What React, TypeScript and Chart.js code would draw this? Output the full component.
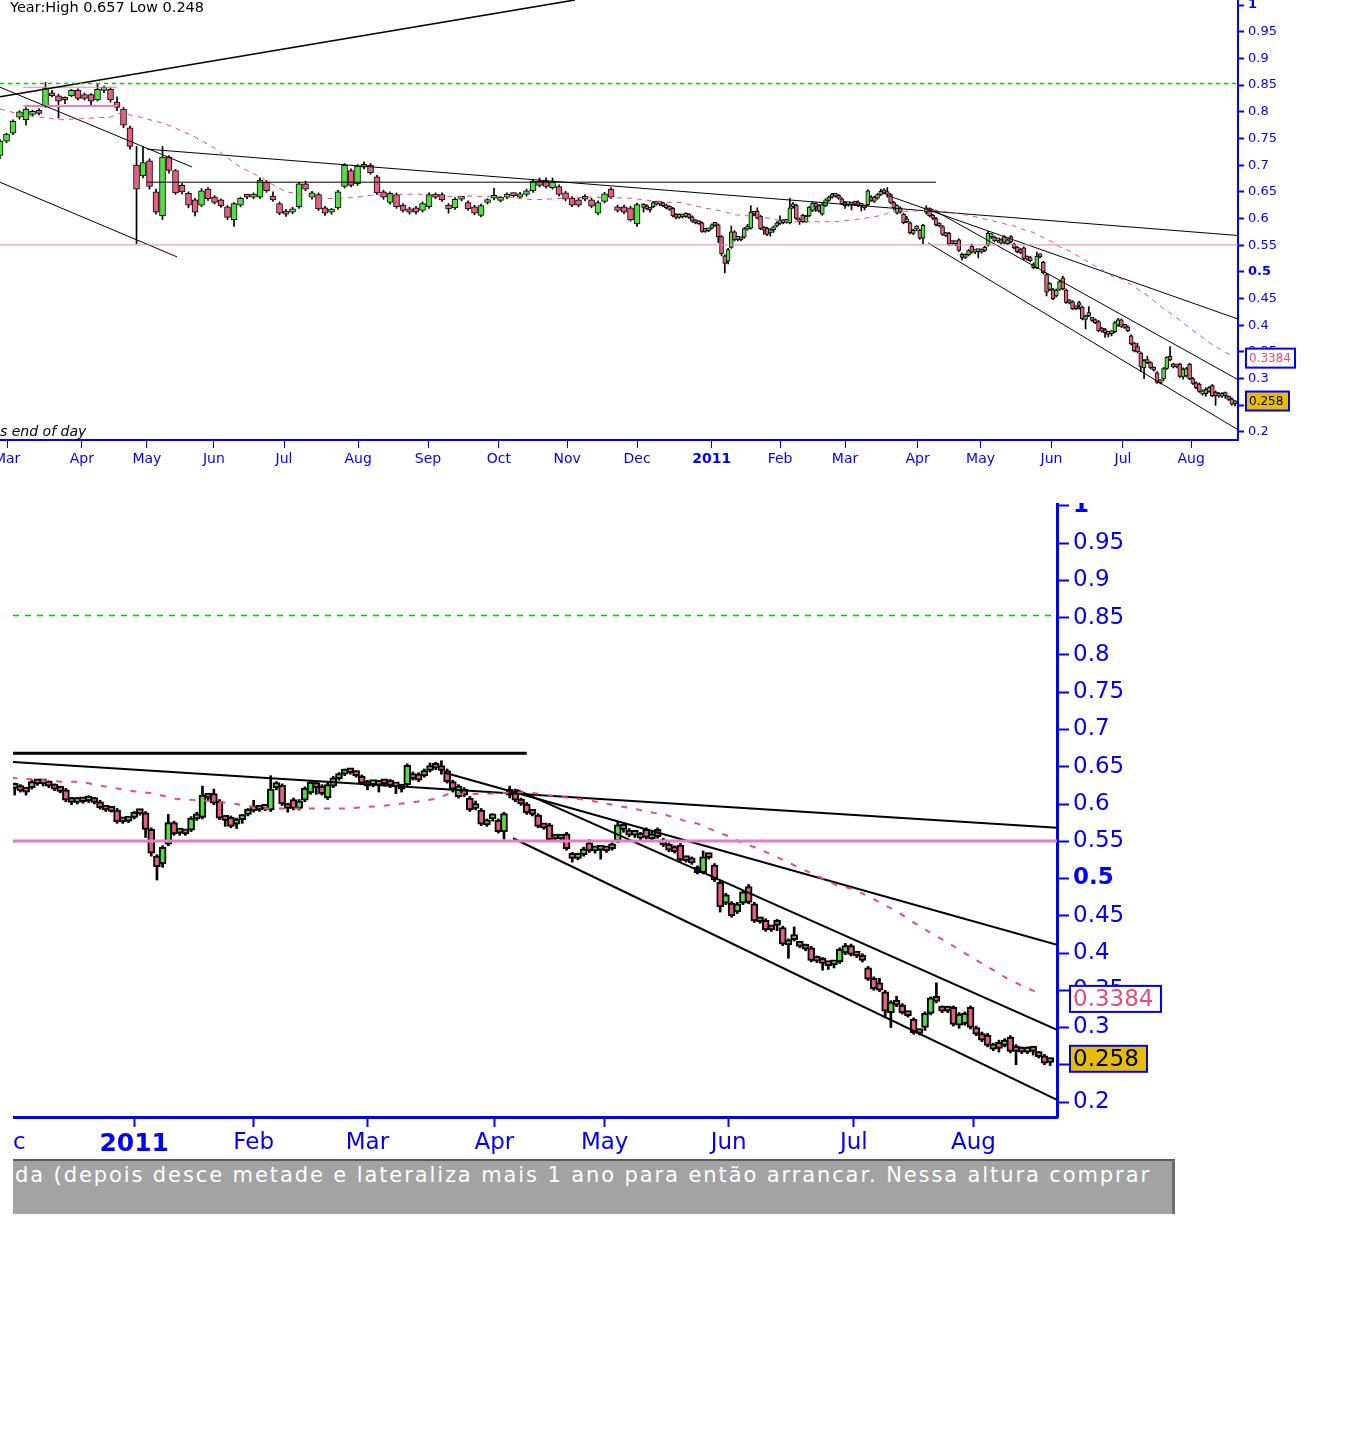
import React, { useEffect, useRef } from 'react';
import { Chart, registerables } from 'chart.js';

Chart.register(...registerables);

// ---------------- colours ----------------
const BLUE = '#0000FF';
const UP = '#55DD44';
const DOWN = '#E4607E';
const MA_COLOR = '#E0507A';
const SUPPORT_PINK = '#E87CC8';
const GREEN_DASH = '#00CC00';
const GOLD = '#E6BE0A';
const FONT = 'DejaVu Sans';

// ---------------- axis ticks ----------------
const yTickValues = [0.2, 0.25, 0.3, 0.35, 0.4, 0.45, 0.5, 0.55, 0.6, 0.65, 0.7, 0.75, 0.8, 0.85, 0.9, 0.95, 1];
// trading-day index of each month start
const monthTickDays = [2.2, 25.2, 45.2, 65.8, 87.4, 110.2, 131.7, 153.5, 174.5, 196, 219, 240, 260, 282.3, 301.7, 323.5, 345.5, 366.5];
const monthTickLabels = ['Mar', 'Apr', 'May', 'Jun', 'Jul', 'Aug', 'Sep', 'Oct', 'Nov', 'Dec', '2011', 'Feb', 'Mar', 'Apr', 'May', 'Jun', 'Jul', 'Aug'];

// ---------------- header values ----------------
const yearHigh = 0.657;
const yearLow = 0.248;
const lastPrice = 0.258;
const maLast = 0.3384;

// ---------------- candles: [open, high, low, close] ----------------
// Mar 2010 - Dec 2010, one candle every 2 trading days starting at day 0
const firstDay2010 = 0;
const step2010 = 2;
const ohlc2010 = [
  [0.718, 0.748, 0.712, 0.745], [0.745, 0.760, 0.742, 0.758], [0.760, 0.785, 0.757, 0.782], [0.790, 0.802, 0.786, 0.800],
  [0.785, 0.808, 0.775, 0.805], [0.795, 0.803, 0.792, 0.800], [0.800, 0.806, 0.794, 0.797], [0.810, 0.855, 0.808, 0.845],
  [0.835, 0.840, 0.828, 0.830], [0.830, 0.833, 0.788, 0.820], [0.825, 0.828, 0.815, 0.822], [0.830, 0.842, 0.828, 0.840],
  [0.840, 0.843, 0.822, 0.825], [0.832, 0.835, 0.822, 0.825], [0.832, 0.834, 0.813, 0.820], [0.822, 0.853, 0.820, 0.842],
  [0.840, 0.848, 0.836, 0.843], [0.842, 0.845, 0.818, 0.822], [0.818, 0.828, 0.802, 0.808], [0.805, 0.808, 0.770, 0.775],
  [0.770, 0.773, 0.730, 0.735], [0.700, 0.735, 0.553, 0.655], [0.680, 0.735, 0.676, 0.705], [0.708, 0.712, 0.655, 0.660],
  [0.650, 0.655, 0.608, 0.612], [0.605, 0.735, 0.598, 0.715], [0.715, 0.718, 0.685, 0.690], [0.690, 0.692, 0.645, 0.648],
  [0.662, 0.666, 0.646, 0.650], [0.647, 0.650, 0.620, 0.625], [0.635, 0.638, 0.605, 0.612], [0.625, 0.656, 0.622, 0.652],
  [0.655, 0.658, 0.634, 0.637], [0.640, 0.643, 0.627, 0.630], [0.635, 0.637, 0.621, 0.624], [0.622, 0.624, 0.598, 0.602],
  [0.598, 0.630, 0.585, 0.628], [0.625, 0.640, 0.622, 0.638], [0.642, 0.645, 0.637, 0.640], [0.640, 0.648, 0.637, 0.645],
  [0.640, 0.676, 0.637, 0.672], [0.668, 0.671, 0.649, 0.652], [0.642, 0.650, 0.632, 0.635], [0.628, 0.631, 0.607, 0.610],
  [0.614, 0.617, 0.604, 0.608], [0.612, 0.621, 0.609, 0.618], [0.622, 0.668, 0.619, 0.665], [0.665, 0.670, 0.652, 0.655],
  [0.640, 0.651, 0.636, 0.648], [0.645, 0.648, 0.615, 0.618], [0.620, 0.623, 0.606, 0.610], [0.612, 0.619, 0.608, 0.616],
  [0.620, 0.653, 0.617, 0.650], [0.660, 0.703, 0.657, 0.700], [0.690, 0.693, 0.659, 0.662], [0.665, 0.701, 0.662, 0.698],
  [0.696, 0.706, 0.693, 0.700], [0.700, 0.703, 0.683, 0.686], [0.678, 0.681, 0.645, 0.648], [0.650, 0.653, 0.636, 0.640],
  [0.630, 0.650, 0.627, 0.647], [0.645, 0.648, 0.619, 0.622], [0.625, 0.628, 0.612, 0.615], [0.618, 0.621, 0.608, 0.612],
  [0.620, 0.623, 0.608, 0.612], [0.615, 0.631, 0.612, 0.628], [0.622, 0.648, 0.619, 0.645], [0.645, 0.648, 0.637, 0.640],
  [0.645, 0.648, 0.632, 0.635], [0.625, 0.628, 0.610, 0.618], [0.620, 0.639, 0.617, 0.636], [0.636, 0.641, 0.633, 0.638],
  [0.630, 0.633, 0.615, 0.618], [0.622, 0.625, 0.607, 0.610], [0.606, 0.627, 0.603, 0.624], [0.630, 0.637, 0.627, 0.634],
  [0.638, 0.657, 0.635, 0.640], [0.634, 0.641, 0.631, 0.638], [0.640, 0.648, 0.637, 0.645], [0.645, 0.648, 0.640, 0.643],
  [0.640, 0.649, 0.637, 0.646], [0.645, 0.655, 0.642, 0.652], [0.652, 0.673, 0.649, 0.670], [0.670, 0.676, 0.659, 0.662],
  [0.670, 0.676, 0.657, 0.660], [0.658, 0.676, 0.655, 0.668], [0.660, 0.663, 0.642, 0.645], [0.648, 0.651, 0.633, 0.636],
  [0.638, 0.641, 0.622, 0.625], [0.635, 0.638, 0.622, 0.625], [0.640, 0.645, 0.633, 0.636], [0.635, 0.638, 0.620, 0.623],
  [0.610, 0.633, 0.607, 0.630], [0.632, 0.649, 0.629, 0.646], [0.655, 0.658, 0.637, 0.640], [0.622, 0.625, 0.612, 0.615],
  [0.622, 0.625, 0.609, 0.612], [0.620, 0.623, 0.595, 0.598], [0.590, 0.629, 0.585, 0.626],
];

// Dec 2010 - Aug 2011, daily candles starting at day 198
const firstDay2011 = 198;
const ohlc2011 = [
  [0.621, 0.628, 0.612, 0.626], [0.623, 0.626, 0.616, 0.618], [0.619, 0.621, 0.612, 0.616], [0.622, 0.632, 0.620, 0.630],
  [0.630, 0.632, 0.625, 0.627], [0.627, 0.631, 0.624, 0.630], [0.629, 0.631, 0.622, 0.624], [0.625, 0.627, 0.618, 0.620],
  [0.622, 0.624, 0.615, 0.617], [0.619, 0.621, 0.603, 0.605], [0.607, 0.609, 0.599, 0.602], [0.602, 0.609, 0.600, 0.607],
  [0.606, 0.608, 0.601, 0.603], [0.604, 0.611, 0.602, 0.609], [0.607, 0.609, 0.600, 0.602], [0.603, 0.605, 0.593, 0.595],
  [0.596, 0.598, 0.590, 0.592], [0.594, 0.596, 0.589, 0.590], [0.592, 0.594, 0.574, 0.576], [0.578, 0.580, 0.574, 0.576],
  [0.577, 0.582, 0.575, 0.580], [0.582, 0.590, 0.580, 0.588], [0.589, 0.591, 0.585, 0.587], [0.588, 0.590, 0.555, 0.566],
  [0.566, 0.568, 0.530, 0.534], [0.530, 0.532, 0.498, 0.516], [0.520, 0.544, 0.515, 0.542], [0.546, 0.586, 0.544, 0.575],
  [0.575, 0.577, 0.558, 0.560], [0.561, 0.566, 0.558, 0.564], [0.563, 0.565, 0.558, 0.560], [0.565, 0.583, 0.563, 0.581],
  [0.580, 0.589, 0.578, 0.586], [0.582, 0.624, 0.580, 0.612], [0.610, 0.613, 0.605, 0.608], [0.614, 0.620, 0.599, 0.601],
  [0.604, 0.606, 0.579, 0.581], [0.583, 0.585, 0.570, 0.578], [0.582, 0.584, 0.568, 0.570], [0.573, 0.581, 0.567, 0.579],
  [0.579, 0.586, 0.574, 0.584], [0.586, 0.594, 0.584, 0.592], [0.591, 0.605, 0.589, 0.596], [0.596, 0.598, 0.590, 0.592],
  [0.593, 0.598, 0.591, 0.596], [0.592, 0.638, 0.590, 0.620], [0.622, 0.630, 0.619, 0.625], [0.625, 0.627, 0.598, 0.600],
  [0.599, 0.601, 0.589, 0.594], [0.606, 0.608, 0.592, 0.594], [0.594, 0.606, 0.592, 0.604], [0.605, 0.623, 0.603, 0.621],
  [0.615, 0.631, 0.613, 0.629], [0.628, 0.630, 0.613, 0.622], [0.624, 0.626, 0.612, 0.614], [0.608, 0.628, 0.606, 0.626],
  [0.624, 0.637, 0.622, 0.635], [0.634, 0.642, 0.632, 0.640], [0.640, 0.647, 0.638, 0.645], [0.645, 0.647, 0.640, 0.642],
  [0.643, 0.645, 0.636, 0.638], [0.637, 0.639, 0.626, 0.628], [0.630, 0.632, 0.619, 0.624], [0.626, 0.629, 0.623, 0.627],
  [0.626, 0.628, 0.616, 0.625], [0.630, 0.632, 0.624, 0.627], [0.631, 0.633, 0.622, 0.625], [0.625, 0.627, 0.614, 0.623],
  [0.623, 0.625, 0.616, 0.620], [0.626, 0.654, 0.624, 0.652], [0.640, 0.643, 0.632, 0.634], [0.640, 0.642, 0.630, 0.632],
  [0.638, 0.647, 0.636, 0.645], [0.645, 0.655, 0.643, 0.651], [0.650, 0.656, 0.646, 0.648],
  [0.650, 0.658, 0.640, 0.645], [0.645, 0.647, 0.628, 0.630], [0.630, 0.632, 0.616, 0.620], [0.610, 0.626, 0.608, 0.624],
  [0.620, 0.622, 0.610, 0.612], [0.608, 0.610, 0.590, 0.592], [0.594, 0.604, 0.592, 0.598], [0.592, 0.594, 0.571, 0.573],
  [0.572, 0.580, 0.570, 0.578], [0.580, 0.587, 0.577, 0.585], [0.578, 0.580, 0.561, 0.563], [0.563, 0.589, 0.553, 0.587],
  [0.612, 0.624, 0.608, 0.620], [0.618, 0.620, 0.603, 0.605], [0.606, 0.608, 0.598, 0.600], [0.600, 0.602, 0.586, 0.588],
  [0.590, 0.592, 0.584, 0.586], [0.585, 0.587, 0.568, 0.570], [0.572, 0.574, 0.566, 0.568], [0.572, 0.574, 0.550, 0.552],
  [0.556, 0.558, 0.551, 0.553], [0.553, 0.557, 0.549, 0.555], [0.560, 0.562, 0.538, 0.540], [0.533, 0.535, 0.522, 0.527],
  [0.527, 0.534, 0.525, 0.532], [0.532, 0.542, 0.530, 0.540], [0.548, 0.552, 0.535, 0.537], [0.537, 0.542, 0.534, 0.539],
  [0.538, 0.542, 0.526, 0.540], [0.540, 0.543, 0.535, 0.537], [0.540, 0.548, 0.538, 0.546], [0.550, 0.576, 0.548, 0.572],
  [0.566, 0.571, 0.562, 0.570], [0.565, 0.567, 0.556, 0.558], [0.558, 0.563, 0.555, 0.561], [0.554, 0.562, 0.552, 0.560],
  [0.566, 0.568, 0.553, 0.555], [0.553, 0.562, 0.551, 0.560], [0.566, 0.568, 0.554, 0.556], [0.552, 0.554, 0.543, 0.545],
  [0.546, 0.548, 0.536, 0.538], [0.542, 0.544, 0.534, 0.536], [0.545, 0.547, 0.523, 0.525], [0.526, 0.530, 0.522, 0.524],
  [0.527, 0.529, 0.519, 0.521], [0.515, 0.517, 0.506, 0.508], [0.508, 0.537, 0.506, 0.529], [0.532, 0.534, 0.526, 0.528],
  [0.518, 0.520, 0.496, 0.498], [0.495, 0.497, 0.455, 0.462], [0.467, 0.480, 0.465, 0.478], [0.467, 0.469, 0.448, 0.450],
  [0.455, 0.468, 0.453, 0.466], [0.467, 0.484, 0.465, 0.482], [0.489, 0.492, 0.466, 0.468], [0.466, 0.468, 0.441, 0.443],
  [0.446, 0.448, 0.440, 0.442], [0.444, 0.446, 0.429, 0.431], [0.433, 0.435, 0.429, 0.431], [0.438, 0.445, 0.430, 0.437],
  [0.434, 0.436, 0.410, 0.412], [0.411, 0.419, 0.393, 0.417], [0.418, 0.435, 0.416, 0.421], [0.413, 0.415, 0.407, 0.409],
  [0.410, 0.412, 0.403, 0.405], [0.407, 0.409, 0.388, 0.390], [0.392, 0.396, 0.387, 0.389], [0.392, 0.394, 0.377, 0.386],
  [0.386, 0.388, 0.378, 0.383], [0.384, 0.390, 0.380, 0.388], [0.388, 0.407, 0.386, 0.405], [0.400, 0.413, 0.398, 0.410],
  [0.410, 0.412, 0.396, 0.398], [0.400, 0.402, 0.394, 0.396], [0.397, 0.399, 0.388, 0.390], [0.380, 0.382, 0.363, 0.365],
  [0.366, 0.368, 0.350, 0.352], [0.360, 0.366, 0.348, 0.350], [0.348, 0.350, 0.313, 0.322], [0.320, 0.336, 0.300, 0.334],
  [0.334, 0.342, 0.328, 0.330], [0.330, 0.332, 0.318, 0.320], [0.320, 0.322, 0.314, 0.316], [0.311, 0.313, 0.291, 0.293],
  [0.296, 0.298, 0.290, 0.292], [0.300, 0.321, 0.296, 0.319], [0.319, 0.341, 0.317, 0.340], [0.342, 0.360, 0.333, 0.335],
  [0.327, 0.329, 0.320, 0.322], [0.324, 0.326, 0.320, 0.322], [0.327, 0.329, 0.302, 0.304], [0.303, 0.320, 0.299, 0.318],
  [0.305, 0.321, 0.303, 0.319], [0.327, 0.329, 0.298, 0.300], [0.300, 0.302, 0.289, 0.291], [0.292, 0.294, 0.281, 0.283],
  [0.290, 0.292, 0.274, 0.276], [0.271, 0.279, 0.269, 0.277], [0.280, 0.283, 0.267, 0.272], [0.276, 0.285, 0.274, 0.283],
  [0.287, 0.289, 0.266, 0.268], [0.275, 0.277, 0.250, 0.268], [0.272, 0.274, 0.265, 0.267], [0.267, 0.274, 0.265, 0.272],
  [0.273, 0.275, 0.263, 0.268], [0.266, 0.268, 0.259, 0.261], [0.262, 0.264, 0.250, 0.252], [0.253, 0.259, 0.249, 0.258],
];

// ---------------- moving average (pink dashed) ----------------
const maDays = [0, 7, 18.5, 34, 37, 43, 51, 59, 65.5, 74, 79, 84, 88, 92, 98.5, 103.7, 110, 115, 129, 133, 143.7, 157, 164, 174.5, 180.6, 194.8,
  198, 206, 209.6, 213.5, 219, 222.6, 226, 232.3, 236.9, 241.5, 249.9, 256.8, 263.2, 268.7, 272, 274.1, 281.7, 287.7, 298.8, 304.4, 307.3,
  309.7, 312.6, 315.5, 317.9, 320.7, 323.7, 326, 328.5, 342.5, 345.3, 348.1, 351, 353.2, 356.2, 359, 361.8, 364.3, 367.1, 369.8, 372.4, 375.6, 378.4];
const maValues = [0.805, 0.794, 0.785, 0.790, 0.798, 0.790, 0.777, 0.756, 0.734, 0.696, 0.681, 0.663, 0.650, 0.646, 0.638, 0.637, 0.640, 0.644, 0.646, 0.640, 0.642, 0.640, 0.635, 0.638, 0.640, 0.638,
  0.635, 0.630, 0.630, 0.624, 0.617, 0.614, 0.607, 0.604, 0.600, 0.594, 0.594, 0.594, 0.598, 0.603, 0.607, 0.613, 0.614, 0.616, 0.605, 0.597, 0.593,
  0.589, 0.585, 0.578, 0.574, 0.565, 0.556, 0.547, 0.541, 0.491, 0.486, 0.476, 0.464, 0.455, 0.440, 0.427, 0.415, 0.403, 0.390, 0.378, 0.366, 0.354, 0.345];

// ---------------- levels & trend lines: [day1, value1, day2, value2] ----------------
const greenLevel = 0.853;
const pinkLevel = 0.5505;
const pinkBoxTop = [7.2, 0.846, 36, 0.846];
const pinkBoxBottom = [7.2, 0.811, 36, 0.811];
const risingLine = [0, 0.828, 176.9, 1.0094];
const fallingLine2010 = [0, 0.846, 59.1, 0.6965];
const lowerChannel2010 = [0, 0.668, 54.5, 0.528];
const longResistance = [45.2, 0.730, 381.2, 0.568];
const flatResistance = [45.2, 0.668, 288, 0.668];
const fanA = [273.6, 0.642, 381.2, 0.411];
const fanB = [286.3, 0.619, 381.2, 0.297];
const fanC = [285.6, 0.554, 381.2, 0.203];

// ---------------- layouts ----------------
const TOP = {
  width: 1352, height: 472, xMin: 0, xMax: 380.9, yMin: 0.185, yMax: 1.0094,
  xAxisH: 32, yAxisW: 114, yFont: 13, xFont: 14, xBoldFont: 14, yTickLen: 6, xTickLen: 8, yPad: 4, xPad: 3,
  border: 2, xTickW: 1, body2010: 6, body2011: 4, bodyBorder: 1, wickW: 1, lineW: 1, flatW: 1, pinkW: 1, maW: 1,
  maDash: [5, 5], greenDash: [4, 4], greenW: 1.5,
  minBar: 3, boxGap: 8, boxFont: 12, maBoxW: 49, priceBoxW: 43, boxH: 19, early: true,
};
const BOTTOM = {
  width: 1339, height: 657, xMin: 197.7, xMax: 381.2, yMin: 0.1799, yMax: 1.004,
  xAxisH: 43, yAxisW: 295, yFont: 23, xFont: 23, xBoldFont: 25, yTickLen: 12, xTickLen: 10, yPad: 4, xPad: 2,
  border: 3, xTickW: 2, body2010: 7, body2011: 7, bodyBorder: 2, wickW: 2, lineW: 2, flatW: 3, pinkW: 3, maW: 2,
  maDash: [6, 9], greenDash: [6, 6], greenW: 1.5,
  minBar: 5, boxGap: 13, boxFont: 23, maBoxW: 91, priceBoxW: 77, boxH: 26, early: false,
};

type Spec = typeof TOP;

function candleSets(rows: number[][], firstDay: number, step: number, s: Spec, bodyW: number) {
  const bodies = rows.map((r, i) => ({ x: firstDay + i * step, y: [r[0], r[3]] }));
  const wicks = rows.map((r, i) => ({ x: firstDay + i * step, y: [r[2], r[1]] }));
  const colors = rows.map((r) => (r[3] >= r[0] ? UP : DOWN));
  return [
    {
      type: 'bar', data: bodies, backgroundColor: colors, borderColor: '#000000', borderWidth: s.bodyBorder,
      borderSkipped: false, barThickness: bodyW, grouped: false, minBarLength: s.minBar, order: 2,
    },
    {
      type: 'bar', data: wicks, backgroundColor: '#000000', borderWidth: 0,
      barThickness: s.wickW, grouped: false, order: 3,
    },
  ];
}

function seg(l: number[], width: number, color: string, dash: number[] = []) {
  return {
    type: 'line', data: [{ x: l[0], y: l[1] }, { x: l[2], y: l[3] }], borderColor: color, borderWidth: width,
    borderDash: dash, pointRadius: 0, fill: false, tension: 0, order: 1,
  };
}

function drawBox(ctx: CanvasRenderingContext2D, x: number, yc: number, w: number, h: number, fill: string, color: string, text: string, font: number) {
  ctx.save();
  ctx.fillStyle = fill;
  ctx.fillRect(x, yc - h / 2, w, h);
  ctx.strokeStyle = BLUE;
  ctx.lineWidth = 2;
  ctx.strokeRect(x, yc - h / 2, w, h);
  ctx.fillStyle = color;
  ctx.font = `${font}px "${FONT}"`;
  ctx.textAlign = 'left';
  ctx.textBaseline = 'middle';
  ctx.fillText(text, x + 3, yc + 1);
  ctx.restore();
}

function buildConfig(s: Spec) {
  const ticksX = monthTickDays
    .map((d, i) => ({ d, label: monthTickLabels[i] }))
    .filter((t) => t.d >= s.xMin - 12 && t.d <= s.xMax);

  const datasets: any[] = [];
  // overlay lines (drawn on top)
  datasets.push(seg([s.xMin, greenLevel, s.xMax, greenLevel], s.greenW, GREEN_DASH, s.greenDash));
  datasets.push(seg([s.xMin, pinkLevel, s.xMax, pinkLevel], s.pinkW, SUPPORT_PINK));
  datasets.push({
    type: 'line', data: maDays.map((d, i) => ({ x: d, y: maValues[i] })), borderColor: MA_COLOR,
    borderWidth: s.maW, borderDash: s.maDash, pointRadius: 0, fill: false, tension: 0, order: 1,
  });
  if (s.early) {
    datasets.push(seg(risingLine, 1.6, '#000000'));
    datasets.push(seg(fallingLine2010, s.lineW, '#000000'));
    datasets.push(seg(lowerChannel2010, s.lineW, '#000000'));
    datasets.push(seg(pinkBoxTop, 1, SUPPORT_PINK));
    datasets.push(seg(pinkBoxBottom, 2, SUPPORT_PINK));
  }
  datasets.push(seg(longResistance, s.lineW, '#000000'));
  datasets.push(seg(flatResistance, s.flatW, '#000000'));
  datasets.push(seg(fanA, s.lineW, '#000000'));
  datasets.push(seg(fanB, s.lineW, '#000000'));
  datasets.push(seg(fanC, s.lineW, '#000000'));
  // candles
  if (s.early) datasets.push(...candleSets(ohlc2010, firstDay2010, step2010, s, s.body2010));
  datasets.push(...candleSets(ohlc2011, firstDay2011, 1, s, s.body2011));

  const overlay = {
    id: 'overlay',
    afterDraw(chart: any) {
      const { ctx, chartArea, scales } = chart;
      const y = scales.y;
      const bx = chartArea.right + s.boxGap;
      drawBox(ctx, bx, y.getPixelForValue(maLast), s.maBoxW, s.boxH, '#FFFFFF', MA_COLOR, maLast.toFixed(4), s.boxFont);
      drawBox(ctx, bx, y.getPixelForValue(lastPrice), s.priceBoxW, s.boxH, GOLD, '#000000', lastPrice.toFixed(3), s.boxFont);
      if (s.early) {
        ctx.save();
        ctx.fillStyle = '#000000';
        ctx.textBaseline = 'middle';
        ctx.textAlign = 'left';
        ctx.font = `14.5px "${FONT}"`;
        ctx.fillText(`Year:High ${yearHigh.toFixed(3)} Low ${yearLow.toFixed(3)}`, 10, 8);
        ctx.font = `italic 14px "${FONT}"`;
        ctx.fillText('s end of day', 0, 432);
        ctx.restore();
      }
    },
  };

  return {
    type: 'bar',
    data: { datasets },
    plugins: [overlay],
    options: {
      animation: false,
      responsive: false,
      devicePixelRatio: 1,
      events: [],
      layout: { padding: 0, autoPadding: false },
      plugins: { legend: { display: false }, tooltip: { enabled: false }, title: { display: false } },
      scales: {
        x: {
          type: 'linear', position: 'bottom', min: s.xMin, max: s.xMax, offset: false,
          grid: { display: true, drawOnChartArea: false, drawTicks: true, tickLength: s.xTickLen, tickColor: BLUE, tickWidth: s.xTickW, offset: false },
          border: { display: true, color: BLUE, width: s.border },
          afterBuildTicks: (scale: any) => { scale.ticks = ticksX.map((t) => ({ value: t.d })); },
          afterFit: (scale: any) => { scale.height = s.xAxisH; scale.paddingLeft = 0; scale.paddingRight = 0; },
          ticks: {
            autoSkip: false, maxRotation: 0, minRotation: 0, padding: s.xPad, color: BLUE,
            callback: (_v: any, i: number) => (ticksX[i] ? ticksX[i].label : ''),
            font: (ctx: any) => {
              const bold = ticksX[ctx.index] && ticksX[ctx.index].label === '2011';
              return { family: FONT, size: bold ? s.xBoldFont : s.xFont, weight: bold ? 'bold' : 'normal' };
            },
          },
        },
        y: {
          type: 'linear', position: 'right', min: s.yMin, max: s.yMax,
          grid: { display: true, drawOnChartArea: false, drawTicks: true, tickLength: s.yTickLen, tickColor: BLUE, tickWidth: 2 },
          border: { display: true, color: BLUE, width: s.border },
          afterBuildTicks: (scale: any) => { scale.ticks = yTickValues.map((v) => ({ value: v })); },
          afterFit: (scale: any) => { scale.width = s.yAxisW; scale.paddingTop = 0; scale.paddingBottom = 0; },
          ticks: {
            autoSkip: false, padding: s.yPad, color: BLUE,
            callback: (v: any) => String(Math.round(Number(v) * 100) / 100),
            font: (ctx: any) => {
              const v = ctx.tick ? ctx.tick.value : 0;
              const bold = Math.abs(v - 0.5) < 1e-6 || Math.abs(v - 1) < 1e-6;
              return { family: FONT, size: s.yFont, weight: bold ? 'bold' : 'normal' };
            },
          },
        },
      },
    },
  };
}

export default function App() {
  const topRef = useRef<HTMLCanvasElement | null>(null);
  const botRef = useRef<HTMLCanvasElement | null>(null);

  useEffect(() => {
    const top = new Chart(topRef.current as HTMLCanvasElement, buildConfig(TOP) as any);
    const bot = new Chart(botRef.current as HTMLCanvasElement, buildConfig(BOTTOM) as any);
    return () => {
      top.destroy();
      bot.destroy();
    };
  }, []);

  return (
    <div style={{ position: 'absolute', left: 0, top: 0, width: 1352, height: 1432, background: '#FFFFFF', overflow: 'hidden' }}>
      <div style={{ position: 'absolute', left: 0, top: 0, width: TOP.width, height: TOP.height }}>
        <canvas ref={topRef} width={TOP.width} height={TOP.height} style={{ display: 'block', width: TOP.width, height: TOP.height }} />
      </div>
      <div style={{ position: 'absolute', left: 13, top: 503, width: BOTTOM.width, height: BOTTOM.height }}>
        <canvas ref={botRef} width={BOTTOM.width} height={BOTTOM.height} style={{ display: 'block', width: BOTTOM.width, height: BOTTOM.height }} />
      </div>
      <div
        style={{
          position: 'absolute', left: 13, top: 1159, width: 1159, height: 52, background: '#A3A3A3',
          borderTop: '2px solid #5A5A5A', borderRight: '3px solid #6E6E6E', overflow: 'hidden',
          color: '#FFFFFF', fontFamily: '"DejaVu Sans", sans-serif', fontSize: 21, lineHeight: '26px',
          letterSpacing: '1.9px', whiteSpace: 'nowrap', paddingTop: 1, boxSizing: 'content-box',
        }}
      >
        <span style={{ paddingLeft: 2 }}>da (depois desce metade e lateraliza mais 1 ano para então arrancar. Nessa altura comprar</span>
      </div>
    </div>
  );
}
